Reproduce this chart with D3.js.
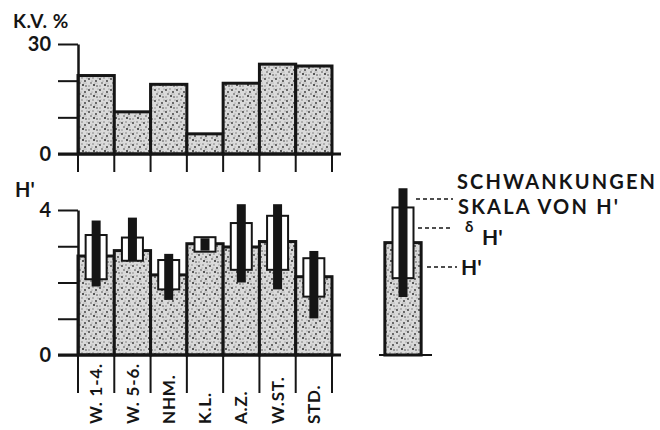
<!DOCTYPE html>
<html>
<head>
<meta charset="utf-8">
<script src="https://cdn.jsdelivr.net/npm/d3@7"></script>
<style>
  html, body { margin: 0; padding: 0; background: #fff; }
  svg { display: block; }
  text { font-family: Lato, "DejaVu Sans", sans-serif; fill: #151515; }
</style>
</head>
<body>
<script>
// Station groups along the x axis
const categories = ["W. 1-4.", "W. 5-6.", "NHM.", "K.L.", "A.Z.", "W.ST.", "STD."];
// Coefficient of variation (K.V. %) per group
const kvValues = [21.4, 11.5, 19.0, 5.5, 19.3, 24.5, 24.0];
// Diversity H' per group (bar height)
const hMean = [2.73, 2.88, 2.21, 3.07, 2.98, 3.13, 2.16];
// Standard deviation band of H' (white box): low / high
const hSdLow  = [2.09, 2.60, 1.81, 2.85, 2.35, 2.35, 1.61];
const hSdHigh = [3.31, 3.24, 2.62, 3.25, 3.64, 3.84, 2.67];
// Range of H' (black bar): min / max
const hMin = [1.89, 2.60, 1.52, 2.88, 2.00, 1.81, 1.01];
const hMax = [3.71, 3.79, 2.79, 3.22, 4.16, 4.16, 2.87];
// Legend example bar
const legendMean = 3.1, legendSd = [2.12, 4.07], legendRange = [1.6, 4.6];
// Axis ticks
const kvTicks = [0, 10, 20, 30], kvTickLabels = ["0", "", "", "30"];
const hTicks = [0, 1, 2, 3, 4], hTickLabels = ["0", "", "", "", "4"];

const W = 660, H = 430;
const ink = "#151515";
const svg = d3.select("body").append("svg").attr("width", W).attr("height", H);

// Stippled fill for the bars
const defs = svg.append("defs");
const pat = defs.append("pattern").attr("id", "stipple")
  .attr("patternUnits", "userSpaceOnUse").attr("width", 11).attr("height", 11);
pat.append("rect").attr("width", 11).attr("height", 11).attr("fill", "#dadada");
const specks = [[1,2,0.9,"#333"],[5,1,0.7,"#666"],[8,4,0.9,"#333"],[3,6,0.8,"#444"],
  [9,9,0.8,"#444"],[6,8,1.0,"#2a2a2a"],[1,9,0.7,"#777"],[4,4,0.6,"#888"],[10,1,0.6,"#777"],
  [7,6,0.6,"#888"],[2,0,0.5,"#999"],[9,6,0.5,"#999"]];
specks.forEach(([cx, cy, r, c]) => pat.append("circle").attr("cx", cx).attr("cy", cy).attr("r", r).attr("fill", c));

const x = d3.scaleBand().domain(categories).range([78, 332]).paddingInner(0).paddingOuter(0);
const bw = x.bandwidth();
const yKV = d3.scaleLinear().domain([0, 30]).range([154, 44]);
const yH = d3.scaleLinear().domain([0, 4]).range([355, 210]);

// ---------- Upper panel: K.V. % ----------
const gTop = svg.append("g");
gTop.selectAll("rect.kv").data(categories).join("rect")
  .attr("class", "kv")
  .attr("x", d => x(d)).attr("width", bw)
  .attr("y", (d, i) => yKV(kvValues[i]))
  .attr("height", (d, i) => yKV(0) - yKV(kvValues[i]))
  .attr("fill", "url(#stipple)").attr("stroke", ink).attr("stroke-width", 3);

const axKV = d3.axisLeft(yKV).tickValues(kvTicks)
  .tickFormat((d, i) => kvTickLabels[i]).tickSizeInner(20).tickSizeOuter(0).tickPadding(7);
const gKV = gTop.append("g").attr("transform", `translate(${x.range()[0]},0)`).call(axKV);
gKV.select(".domain").attr("stroke", ink).attr("stroke-width", 2.5);
gKV.selectAll(".tick line").attr("stroke", ink).attr("stroke-width", 2);
gKV.selectAll(".tick text").style("font-family", "Lato, sans-serif").attr("font-size", 20)
  .attr("font-weight", 700).attr("fill", ink);

// baseline and column dividers below it
gTop.append("line").attr("x1", 58).attr("x2", 341).attr("y1", yKV(0)).attr("y2", yKV(0))
  .attr("stroke", ink).attr("stroke-width", 3);
const edges = categories.map(d => x(d)).concat([x.range()[1]]);
gTop.selectAll("line.div").data(edges).join("line").attr("class", "div")
  .attr("x1", d => d).attr("x2", d => d).attr("y1", yKV(0)).attr("y2", yKV(0) + 18)
  .attr("stroke", ink).attr("stroke-width", 2);

svg.append("text").attr("x", 13).attr("y", 28).attr("font-size", 19).attr("font-weight", 700)
  .attr("letter-spacing", 0.5).text("K.V. %");

// ---------- Lower panel: H' ----------
const gBot = svg.append("g");
function drawHBar(g, cx, mean, sd, range) {
  const left = cx - bw / 2;
  g.append("rect").attr("x", left).attr("width", bw)
    .attr("y", yH(mean)).attr("height", yH(0) - yH(mean))
    .attr("fill", "url(#stipple)").attr("stroke", ink).attr("stroke-width", 3);
  g.append("rect").attr("x", cx - 10.5).attr("width", 21)
    .attr("y", yH(sd[1])).attr("height", yH(sd[0]) - yH(sd[1]))
    .attr("fill", "#fff").attr("stroke", ink).attr("stroke-width", 2);
  g.append("rect").attr("x", cx - 4.5).attr("width", 9)
    .attr("y", yH(range[1])).attr("height", yH(range[0]) - yH(range[1]))
    .attr("fill", ink);
}
categories.forEach((c, i) => {
  drawHBar(gBot, x(c) + bw / 2, hMean[i], [hSdLow[i], hSdHigh[i]], [hMin[i], hMax[i]]);
});

const axH = d3.axisLeft(yH).tickValues(hTicks)
  .tickFormat((d, i) => hTickLabels[i]).tickSizeInner(20).tickSizeOuter(0).tickPadding(7);
const gH = gBot.append("g").attr("transform", `translate(${x.range()[0]},0)`).call(axH);
gH.select(".domain").attr("stroke", ink).attr("stroke-width", 2.5);
gH.selectAll(".tick line").attr("stroke", ink).attr("stroke-width", 2);
gH.selectAll(".tick text").style("font-family", "Lato, sans-serif").attr("font-size", 20)
  .attr("font-weight", 700).attr("fill", ink);

gBot.append("line").attr("x1", 58).attr("x2", 341).attr("y1", yH(0)).attr("y2", yH(0))
  .attr("stroke", ink).attr("stroke-width", 3);
gBot.selectAll("line.div").data(edges).join("line").attr("class", "div")
  .attr("x1", d => d).attr("x2", d => d).attr("y1", yH(0)).attr("y2", yH(0) + 38)
  .attr("stroke", ink).attr("stroke-width", 2);

svg.append("text").attr("x", 15).attr("y", 197).attr("font-size", 20).attr("font-weight", 700)
  .text("H'");

// rotated group names
gBot.selectAll("text.cat").data(categories).join("text").attr("class", "cat")
  .attr("transform", d => `translate(${x(d) + bw / 2},424) rotate(-90)`)
  .attr("dy", "0.36em").attr("font-size", 17).attr("font-weight", 700)
  .attr("letter-spacing", 0.8).text(d => d);

// ---------- Legend ----------
const lg = svg.append("g");
const lcx = 403;
lg.append("line").attr("x1", 379).attr("x2", 432).attr("y1", yH(0)).attr("y2", yH(0))
  .attr("stroke", ink).attr("stroke-width", 2);
drawHBar(lg, lcx, legendMean, legendSd, legendRange);

const dash = (x1, x2, y) => lg.append("line").attr("x1", x1).attr("x2", x2).attr("y1", y).attr("y2", y)
  .attr("stroke", ink).attr("stroke-width", 1.6).attr("stroke-dasharray", "4,3");
dash(416, 453, 199);
dash(418, 453, 228);
dash(427, 457, 267);

lg.append("text").attr("x", 457).attr("y", 189).attr("font-size", 20).attr("font-weight", 700)
  .attr("textLength", 198).attr("lengthAdjust", "spacing").text("SCHWANKUNGEN");
lg.append("text").attr("x", 458).attr("y", 214).attr("font-size", 20).attr("font-weight", 700)
  .attr("textLength", 160).attr("lengthAdjust", "spacing").text("SKALA VON H'");
lg.append("text").attr("x", 465).attr("y", 232).attr("font-size", 15).attr("font-weight", 700).text("δ");
lg.append("text").attr("x", 482).attr("y", 245).attr("font-size", 21).attr("font-weight", 700).text("H'");
lg.append("text").attr("x", 461).attr("y", 275).attr("font-size", 21).attr("font-weight", 700).text("H'");
</script>
</body>
</html>
